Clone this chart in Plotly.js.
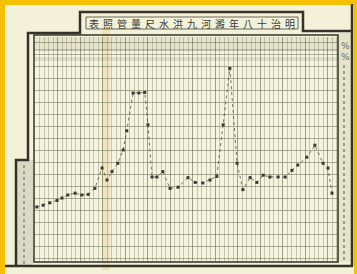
<!DOCTYPE html>
<html>
<head>
<meta charset="utf-8">
<script src="https://cdn.plot.ly/plotly-3.0.1.min.js"></script>
<style>
  html, body { margin: 0; padding: 0; background: #F4F1D9; }
  #chart { width: 357px; height: 274px; }
</style>
</head>
<body>
<div id="chart"></div>
<script>
// Title (as it appears, read left to right on the sheet)
const titleText = "表照管量尺水洪九河澱年八十治明";

// Day index along the horizontal ruling
const day = [0.4, 1.8, 3.3, 4.9, 6.0, 7.3, 8.9, 10.4, 11.8, 13.3, 14.9, 16.0, 17.1, 18.4, 19.6,
             20.4, 21.8, 23.1, 24.4, 25.1, 26.0, 27.1, 28.4, 30.0, 31.8, 34.0, 35.6, 37.3, 38.9,
             40.4, 41.8, 43.3, 44.9, 46.2, 47.8, 49.3, 50.7, 52.2, 54.0, 55.6, 57.1, 58.4, 60.4,
             62.2, 64.0, 65.1, 66.0];

// Water level
const level = [4.25, 4.4, 4.6, 4.8, 5.0, 5.25, 5.4, 5.25, 5.3, 5.8, 7.5, 6.5, 7.2, 7.9, 9.0,
               10.6, 13.75, 13.75, 13.8, 11.1, 6.75, 6.75, 7.2, 5.8, 5.9, 6.7, 6.3, 6.25, 6.5,
               6.8, 11.1, 15.8, 7.9, 5.7, 6.7, 6.3, 6.9, 6.75, 6.75, 6.75, 7.3, 7.75, 8.4,
               9.4, 7.9, 7.5, 5.4];

// Pixel -> paper helpers for decoration
const L = 34, R = 338, T = 37, B = 262;
const X = p => (p - L) / (R - L);
const Y = p => (B - p) / (B - T);

const ink = '#33332a';
const shapes = [
  // yellow mat
  {type:'rect', xref:'paper', yref:'paper', x0:X(0), x1:X(5), y0:Y(274), y1:Y(0), fillcolor:'#F6C100', line:{width:0}, layer:'above'},
  {type:'rect', xref:'paper', yref:'paper', x0:X(0), x1:X(357), y0:Y(5), y1:Y(0), fillcolor:'#F6C100', line:{width:0}, layer:'above'},
  {type:'rect', xref:'paper', yref:'paper', x0:X(354), x1:X(357), y0:Y(274), y1:Y(0), fillcolor:'#F6C100', line:{width:0}, layer:'above'},
  // paper crease stain
  {type:'rect', xref:'paper', yref:'paper', x0:X(102), x1:X(110), y0:Y(270), y1:Y(28), fillcolor:'rgba(235,185,100,0.25)', line:{width:0}, layer:'below'},
  // header band
  {type:'rect', xref:'paper', yref:'paper', x0:X(34), x1:X(338), y0:Y(50), y1:Y(37), fillcolor:'rgba(140,145,110,0.15)', line:{width:0}, layer:'below'},
  {type:'line', xref:'paper', yref:'paper', x0:X(34), x1:X(338), y0:Y(50), y1:Y(50), line:{color:'rgba(90,95,70,0.6)', width:1}},
  {type:'rect', xref:'paper', yref:'paper', x0:X(34), x1:X(338), y0:Y(61), y1:Y(57), fillcolor:'rgba(140,145,120,0.22)', line:{width:0}, layer:'below'},
  // left hatched column
  {type:'rect', xref:'paper', yref:'paper', x0:X(16), x1:X(33), y0:Y(266), y1:Y(160), fillcolor:'rgba(170,172,160,0.35)', line:{width:0}, layer:'below'},
  {type:'line', xref:'paper', yref:'paper', x0:X(24), x1:X(24), y0:Y(264), y1:Y(162), line:{color:'rgba(110,110,100,0.55)', width:2, dash:'dot'}},
  // right scale column
  {type:'rect', xref:'paper', yref:'paper', x0:X(338), x1:X(351), y0:Y(262), y1:Y(33), fillcolor:'rgba(200,200,175,0.35)', line:{width:0}, layer:'below'},
  {type:'line', xref:'paper', yref:'paper', x0:X(344), x1:X(344), y0:Y(260), y1:Y(64), line:{color:'rgba(110,110,95,0.6)', width:2, dash:'dot'}},
  // plot border
  {type:'rect', xref:'paper', yref:'paper', x0:0, x1:1, y0:0, y1:Y(35), line:{color:ink, width:1.5}},
  // outer frame
  {type:'path', xref:'paper', yref:'paper',
   path:`M ${X(16)},${Y(266)} L ${X(16)},${Y(160)} L ${X(28)},${Y(160)} L ${X(28)},${Y(33)} L ${X(80)},${Y(33)} L ${X(80)},${Y(12)} L ${X(303)},${Y(12)} L ${X(303)},${Y(31)} L ${X(352)},${Y(31)}`,
   line:{color:ink, width:2.5}},
  {type:'line', xref:'paper', yref:'paper', x0:X(352), x1:X(352), y0:Y(266), y1:Y(4), line:{color:ink, width:2.5}},
  {type:'line', xref:'paper', yref:'paper', x0:X(5), x1:X(353), y0:Y(266), y1:Y(266), line:{color:ink, width:2.5}},
  // title inner box
  {type:'rect', xref:'paper', yref:'paper', x0:X(86), x1:X(298), y0:Y(29), y1:Y(17), line:{color:'#66665a', width:1}}
];

const annotations = [
  {xref:'paper', yref:'paper', x:X(192), y:Y(23), xanchor:'center', yanchor:'middle',
   text:titleText.split('').join('\u2009\u2009'),
   showarrow:false, font:{family:'Noto Sans CJK TC', size:10, color:'#3a3a33'}},
  {xref:'paper', yref:'paper', x:X(345), y:Y(46), xanchor:'center', yanchor:'middle', text:'%', showarrow:false, font:{family:'DejaVu Serif', size:9, color:'#66665a'}},
  {xref:'paper', yref:'paper', x:X(345), y:Y(57), xanchor:'center', yanchor:'middle', text:'%', showarrow:false, font:{family:'DejaVu Serif', size:9, color:'#66665a'}}
];

const trace = {
  x: day, y: level, type:'scatter', mode:'lines+markers',
  line:{color:'rgba(70,70,60,0.75)', width:1, dash:'dot'},
  marker:{color:'#3a3a32', size:3, symbol:'square'},
  hoverinfo:'skip'
};

const layout = {
  width:357, height:274,
  margin:{l:L, r:357-R, t:T, b:274-B, pad:0},
  paper_bgcolor:'#F4F1D9', plot_bgcolor:'#F6F3DF',
  showlegend:false,
  xaxis:{range:[-1/4.5, 303/4.5], dtick:5, tick0:0, showgrid:true, gridcolor:'rgba(100,105,80,0.6)', gridwidth:1,
         minor:{dtick:1, showgrid:true, gridcolor:'rgba(125,130,100,0.4)', gridwidth:1},
         showticklabels:false, ticks:'', zeroline:false, showline:false, fixedrange:true},
  yaxis:{range:[-4/12, 221/12], dtick:1, tick0:0, showgrid:true, gridcolor:'rgba(110,115,90,0.55)', gridwidth:1,
         showticklabels:false, ticks:'', zeroline:false, showline:false, fixedrange:true},
  shapes, annotations
};

Plotly.newPlot('chart', [trace], layout, {staticPlot:true, displayModeBar:false});
</script>
</body>
</html>
